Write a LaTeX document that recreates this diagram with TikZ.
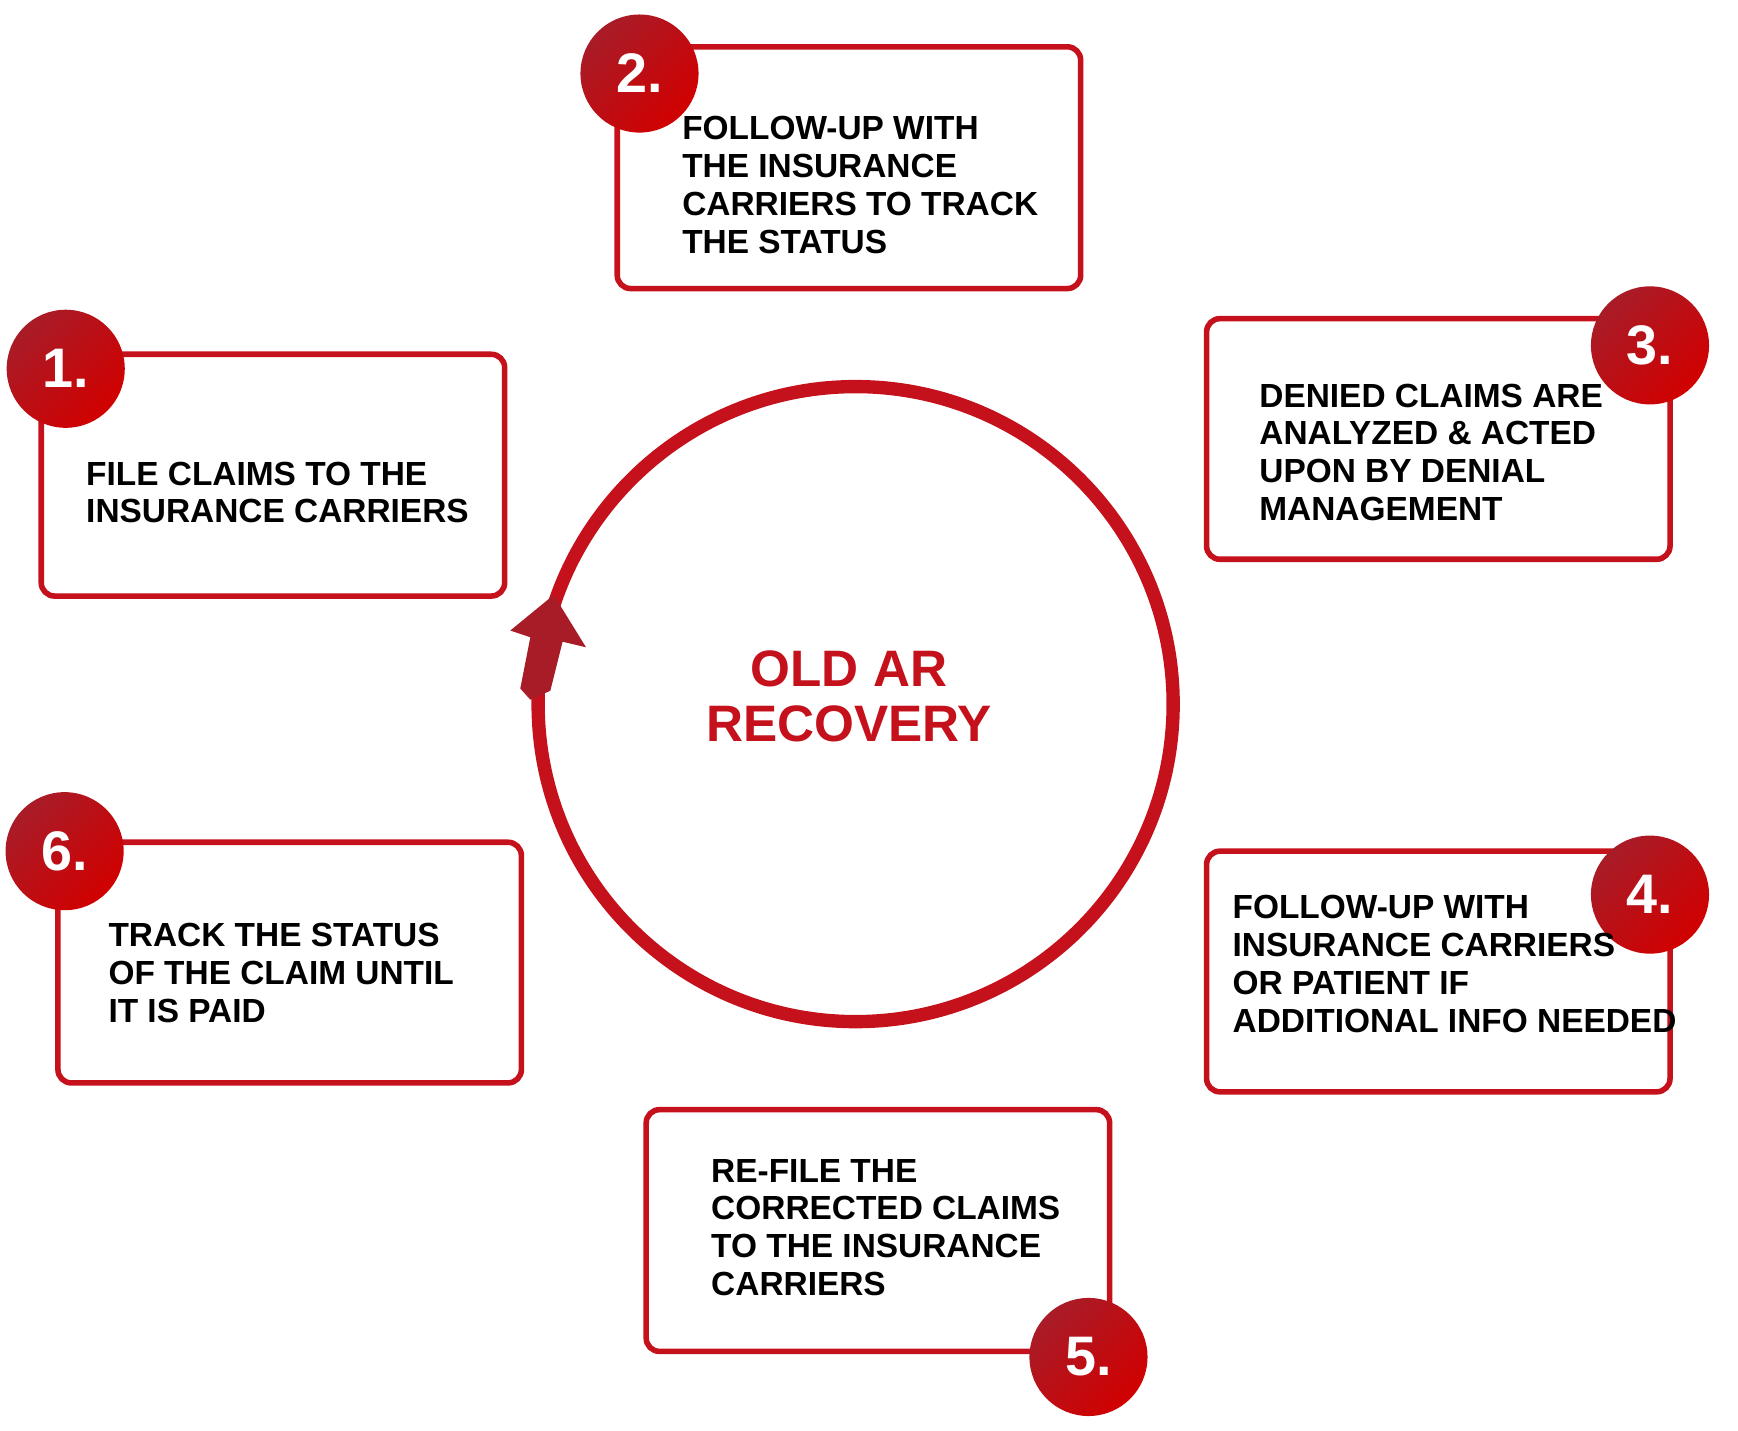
\documentclass[tikz,border=0pt]{standalone}
\usepackage{fontspec}
\setmainfont{Liberation Sans}
\begin{document}
\begin{tikzpicture}[x=0.5pt,y=-0.5pt,
 box/.style={draw=boxred,line width=2.5pt,rounded corners=6pt,fill=white},
 badge/.style={circle,minimum size=53pt,inner sep=0pt,left color=badgered,right color=badgedark,shading angle=45,text=white,font=\fontsize{25}{25}\selectfont\bfseries},
 txt/.style={anchor=north west,inner sep=0pt,align=left,font=\fontsize{15}{17}\selectfont\bfseries}]
\definecolor{boxred}{HTML}{C4111B}
\definecolor{badgered}{HTML}{A81C28}
\definecolor{badgedark}{HTML}{D10000}
\useasboundingbox (0,0) rectangle (1560,1284);
% circle
\draw[boxred,line width=6pt] (768,632) circle (285);
\node[circle,inner sep=0pt,minimum size=1pt] (ctr) at (768,632) {};
\fill[badgered] (476,628) -- (467,618) -- (476,572) -- (458,566) -- (497,534) -- (526,581) -- (505,576) -- (494,620) -- cycle;
\node[text=boxred,align=center,font=\fontsize{23}{25}\selectfont\bfseries] (title) at (762,625) {OLD AR\\RECOVERY};
% boxes
\draw[box] (37,318) rectangle (453,535);
\draw[box] (554,42) rectangle (970,259);
\draw[box] (1083,286) rectangle (1499,502);
\draw[box] (1083,764) rectangle (1499,980);
\draw[box] (580,996) rectangle (996,1213);
\draw[box] (52,756) rectangle (468,972);
\node[badge] (b1) at (59,331) {1.};
\node[badge] (b2) at (574,66) {2.};
\node[badge] (b3) at (1481,310) {3.};
\node[badge] (b4) at (1481,803) {4.};
\node[badge] (b5) at (977,1218) {5.};
\node[badge] (b6) at (58,764) {6.};
\node[txt] (t1) at (77,414) {FILE CLAIMS TO THE\\INSURANCE CARRIERS};
\node[txt] (t2) at (612,104) {FOLLOW-UP WITH\\THE INSURANCE\\CARRIERS TO TRACK\\THE STATUS};
\node[txt] (t3) at (1130,344) {DENIED CLAIMS ARE\\ANALYZED \& ACTED\\UPON BY DENIAL\\MANAGEMENT};
\node[txt] (t4) at (1106,803) {FOLLOW-UP WITH\\INSURANCE CARRIERS\\OR PATIENT IF\\ADDITIONAL INFO NEEDED};
\node[txt] (t5) at (638,1040) {RE-FILE THE\\CORRECTED CLAIMS\\TO THE INSURANCE\\CARRIERS};
\node[txt] (t6) at (97,828) {TRACK THE STATUS\\OF THE CLAIM UNTIL\\IT IS PAID};
\end{tikzpicture}
\end{document}
